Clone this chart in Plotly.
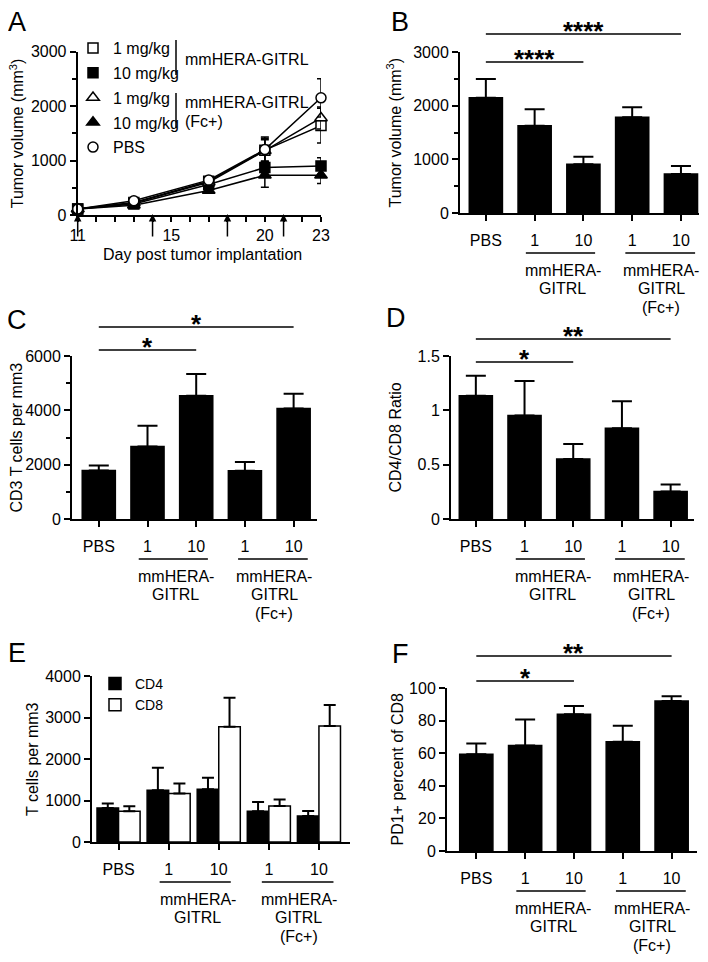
import plotly.graph_objects as go

# the page body adds an 8px margin, so the figure is a little smaller than the window
OFF = 8
W, H = 700, 946
FONT = "Liberation Sans, Arial, sans-serif"

# ---------------- data ----------------
# A: tumour growth curves (mean, sem)
days = [10, 13, 17, 20, 23]
pbs_vol = [110, 260, 640, 1200, 2150]
pbs_err = [20, 30, 60, 230, 350]
g1_vol = [110, 230, 620, 1190, 1640]
g1_err = [20, 30, 60, 220, 320]
g10_vol = [110, 200, 560, 870, 900]
g10_err = [20, 30, 50, 120, 150]
fc1_vol = [110, 220, 600, 1180, 1780]
fc1_err = [20, 30, 50, 200, 200]
fc10_vol = [110, 180, 450, 730, 730]
fc10_err = [20, 30, 50, 220, 150]
dose_days = [10, 14, 18, 21]
day_ticks = list(range(10, 24))
day_labels = ["11", "", "", "", "", "15", "", "", "", "", "20", "", "", "23"]

# B-F: bar panels
groups = ["PBS", "1", "10", "1", "10"]
tumor_vol = [2148, 1627, 907, 1783, 727]
tumor_err = [350, 305, 142, 186, 149]
cd3 = [1785, 2668, 4541, 1775, 4064]
cd3_err = [180, 760, 797, 319, 551]
ratio = [1.135, 0.952, 0.551, 0.836, 0.254]
ratio_err = [0.184, 0.318, 0.14, 0.247, 0.064]
cd4 = [821, 1249, 1273, 741, 628]
cd4_err = [106, 538, 273, 225, 121]
cd8 = [741, 1168, 2778, 870, 2795]
cd8_err = [121, 242, 700, 154, 507]
pd1 = [59.3, 64.7, 83.9, 67.1, 92.0]
pd1_err = [6.6, 16, 5.1, 9.8, 2.9]


def px(x):
    return (x - OFF) / W


def py(y):
    return 1 - (y - OFF) / H


fig = go.Figure()
ann = []
shp = []

axis_style = dict(showline=True, linecolor="black", linewidth=2, ticks="outside",
                  ticklen=6, tickwidth=1.5, tickcolor="black", showgrid=False,
                  zeroline=False, automargin=False,
                  tickfont=dict(size=16, color="black", family=FONT))


def label(x, y, text, xref="paper", yref="paper", **kw):
    d = dict(x=x, y=y, xref=xref, yref=yref, text=text, showarrow=False,
             xanchor="center", yanchor="middle", font=dict(size=16))
    d.update(kw)
    ann.append(d)


################################ panel A ################################
series = [("1 mg/kg", g1_vol, g1_err, "square", "white"),
          ("10 mg/kg", g10_vol, g10_err, "square", "black"),
          ("1 mg/kg ", fc1_vol, fc1_err, "triangle-up", "white"),
          ("10 mg/kg ", fc10_vol, fc10_err, "triangle-up", "black"),
          ("PBS", pbs_vol, pbs_err, "circle", "white")]
for name, v, e, sym, fill in series:
    mk = dict(symbol=sym, size=10 if sym != "triangle-up" else 11, color=fill,
              line=dict(color="black", width=1.5))
    fig.add_trace(go.Scatter(x=days, y=v, mode="lines+markers", xaxis="x", yaxis="y",
                             line=dict(color="black", width=1.5), marker=mk,
                             error_y=dict(type="data", array=e, color="black",
                                          thickness=1.5, width=4),
                             cliponaxis=False, showlegend=False))
    # legend proxy (marker only)
    fig.add_trace(go.Scatter(x=[None], y=[None], mode="markers", marker=mk, name=name.strip(),
                             legendgroup=name, legend="legend", xaxis="x", yaxis="y"))

fig.update_layout(
    xaxis=dict(axis_style, domain=[px(77.7), px(321)], range=[10, 23], anchor="y",
               tickvals=day_ticks, ticktext=day_labels, ticklen=5),
    yaxis=dict(axis_style, domain=[py(215), py(51.5)], range=[0, 3000], anchor="x",
               tickvals=[0, 1000, 2000, 3000], tickformat="d",
               minor=dict(ticks="outside", ticklen=4, tickwidth=1.5, tickcolor="black",
                          dtick=500, showgrid=False)),
)
for d in dose_days:
    ann.append(dict(x=d, xref="x", y=py(214), yref="paper", text="", showarrow=True,
                    ax=0, ay=24, arrowhead=2, arrowsize=1, arrowwidth=1.5, arrowcolor="black"))
label(px(202), py(255), "Day post tumor implantation")
label(px(17), 0.5, "Tumor volume (mm<sup>3</sup>)", yref="y domain", textangle=-90)
# legend group brackets
for b0, b1 in [(40, 75), (93, 128)]:
    shp.append(dict(type="line", xref="paper", yref="paper", x0=px(176), x1=px(176),
                    y0=py(b0), y1=py(b1), line=dict(color="black", width=1.5)))
label(px(183), py(59), "mmHERA-GITRL", xanchor="left")
label(px(183), py(102), "mmHERA-GITRL", xanchor="left")
label(px(183), py(121), "(Fc+)", xanchor="left")

################################ bar panels ################################
panels = [
    # id, x px span, y px span (top, bottom), x range, y range, ticks, minor, title, title x, stars
    ("2", (460, 699), (52, 213), (-0.53, 4.37), (0, 3000), [0, 1000, 2000, 3000], 500,
     "Tumor volume (mm<sup>3</sup>)", 395, [(0, 4, 34, "****"), (0, 2, 62, "****")]),
    ("3", (72, 317), (356, 519), (-0.55, 4.48), (0, 6000), [0, 2000, 4000, 6000], 1000,
     "CD3 T cells per mm3", 16, [(0, 4, 327, "*"), (0, 2, 350, "*")]),
    ("4", (451, 694), (356, 519), (-0.51, 4.48), (0, 1.5), [0, 0.5, 1, 1.5], None,
     "CD4/CD8 Ratio", 395, [(0, 4, 339, "**"), (0, 2, 362, "*")]),
    ("5", (92, 350), (676, 842), (-0.53, 4.62), (0, 4000), [0, 1000, 2000, 3000, 4000], None,
     "T cells per mm3", 32, []),
    ("6", (447, 697), (688, 851), (-0.6, 4.52), (0, 100), [0, 20, 40, 60, 80, 100], None,
     "PD1+ percent of CD8", 397, [(0, 4, 656, "**"), (0, 2, 681, "*")]),
]
bar_data = {"2": (tumor_vol, tumor_err), "3": (cd3, cd3_err), "4": (ratio, ratio_err),
            "6": (pd1, pd1_err)}
xs = list(range(len(groups)))

for pid, (x0, x1), (yt, yb), xr, yr, yt_vals, minor, title, tx, stars in panels:
    xa, ya = "x" + pid, "y" + pid
    if pid == "5":
        fig.add_trace(go.Bar(x=xs, y=cd4, xaxis=xa, yaxis=ya, name="CD4", width=0.43, offset=-0.43,
                             marker=dict(color="black", line=dict(color="black", width=1.5)),
                             error_y=dict(type="data", array=cd4_err, arrayminus=[0] * 5,
                                          symmetric=False, color="black", thickness=2, width=6),
                             legend="legend2"))
        fig.add_trace(go.Bar(x=xs, y=cd8, xaxis=xa, yaxis=ya, name="CD8", width=0.43, offset=0,
                             marker=dict(color="white", line=dict(color="black", width=1.5)),
                             error_y=dict(type="data", array=cd8_err, arrayminus=[0] * 5,
                                          symmetric=False, color="black", thickness=2, width=6),
                             legend="legend2"))
    else:
        vals, errs = bar_data[pid]
        fig.add_trace(go.Bar(x=xs, y=vals, xaxis=xa, yaxis=ya, width=0.68, showlegend=False,
                             marker=dict(color="black", line=dict(color="black", width=1.5)),
                             error_y=dict(type="data", array=errs, arrayminus=[0] * 5,
                                          symmetric=False, color="black", thickness=2, width=10)))
    yax = dict(axis_style, domain=[py(yb), py(yt)], range=list(yr), anchor=xa,
               tickvals=yt_vals, ticktext=[("%g" % v) for v in yt_vals])
    if minor:
        yax["minor"] = dict(ticks="outside", ticklen=4, tickwidth=1.5, tickcolor="black",
                            dtick=minor, showgrid=False)
    fig.update_layout({
        "xaxis" + pid: dict(axis_style, domain=[px(x0), px(x1)], range=list(xr), anchor=ya,
                            tickvals=xs, ticktext=groups, ticklabelstandoff=6),
        "yaxis" + pid: yax,
    })
    label(px(tx), 0.5, title, yref=ya + " domain", textangle=-90)
    # group underlines and labels
    for g0, g1, gc, lines in [(0.82, 2.24, 1.58, ["mmHERA-", "GITRL"]),
                              (2.86, 4.29, 3.6, ["mmHERA-", "GITRL", "(Fc+)"])]:
        shp.append(dict(type="line", xref=xa, yref="paper", x0=g0, x1=g1,
                        y0=py(yb + 40), y1=py(yb + 40), line=dict(color="black", width=1.5)))
        for i, t in enumerate(lines):
            label(gc, py(yb + 57 + 18.5 * i), t, xref=xa)
    # significance bars
    for s0, s1, ly, txt in stars:
        shp.append(dict(type="line", xref=xa, yref="paper", x0=s0, x1=s1, y0=py(ly), y1=py(ly),
                        line=dict(color="black", width=1.5)))
        label((s0 + s1) / 2, py(ly), "<b>" + txt + "</b>", xref=xa, yshift=3,
              font=dict(size=26))

# panel letters
for lab, lx, ly in [("A", 17, 22), ("B", 400, 22), ("C", 17, 320), ("D", 396, 318),
                    ("E", 17, 653), ("F", 400, 654)]:
    label(px(lx), py(ly), lab, font=dict(size=27))

fig.update_layout(
    width=W, height=H, margin=dict(l=0, r=0, t=0, b=0, pad=0, autoexpand=False),
    paper_bgcolor="white", plot_bgcolor="white",
    font=dict(family=FONT, size=16, color="black"),
    barmode="group",
    annotations=ann, shapes=shp,
    legend=dict(x=px(73), y=py(31), xanchor="left", yanchor="top", bgcolor="rgba(0,0,0,0)",
                font=dict(size=16), traceorder="grouped", tracegroupgap=1, itemsizing="trace"),
    legend2=dict(x=px(95), y=py(668), xanchor="left", yanchor="top", bgcolor="rgba(0,0,0,0)",
                 font=dict(size=14), tracegroupgap=0),
)

fig.write_html("out.html")
